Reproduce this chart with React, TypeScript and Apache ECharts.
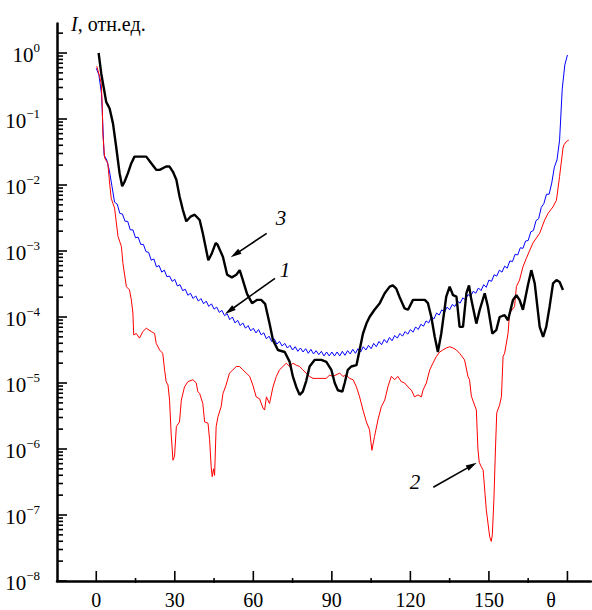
import { useEffect, useRef } from 'react';
import * as echarts from 'echarts';

const FONT = 'Liberation Serif';

// ---- axis texts ----
const xTickLabels = [0, 30, 60, 90, 120, 150];
const xAxisName = 'θ';
const yTitleItalic = 'I';
const yTitleRest = ', отн.ед.';
const curveLabels = ['1', '2', '3'];

// ---- curve 1 (blue): log10 of intensity, every degree ----
const curve1Theta = Array.from({ length: 181 }, (_, i) => i);
const curve1Log = [
  -0.23, -0.33, -0.62, -1.55, -1.62, -1.78, -2.02, -2.26, -2.29, -2.43,
  -2.44, -2.55, -2.55, -2.68, -2.68, -2.80, -2.79, -2.90, -2.90, -3.01,
  -3.02, -3.14, -3.12, -3.24, -3.22, -3.32, -3.29, -3.39, -3.38, -3.46,
  -3.43, -3.53, -3.51, -3.60, -3.58, -3.67, -3.64, -3.72, -3.68, -3.76,
  -3.72, -3.80, -3.76, -3.84, -3.80, -3.88, -3.85, -3.93, -3.90, -3.98,
  -3.95, -4.04, -4.00, -4.09, -4.05, -4.13, -4.09, -4.17, -4.13, -4.21,
  -4.17, -4.24, -4.19, -4.27, -4.24, -4.33, -4.29, -4.37, -4.33, -4.41,
  -4.37, -4.44, -4.40, -4.47, -4.43, -4.50, -4.45, -4.52, -4.47, -4.53,
  -4.48, -4.55, -4.49, -4.56, -4.51, -4.57, -4.52, -4.59, -4.53, -4.59,
  -4.53, -4.59, -4.53, -4.59, -4.52, -4.58, -4.51, -4.56, -4.49, -4.55,
  -4.48, -4.53, -4.45, -4.50, -4.43, -4.48, -4.40, -4.45, -4.37, -4.42,
  -4.34, -4.39, -4.31, -4.36, -4.28, -4.32, -4.25, -4.29, -4.22, -4.26,
  -4.19, -4.23, -4.15, -4.19, -4.11, -4.14, -4.06, -4.09, -4.00, -4.03,
  -3.94, -3.97, -3.89, -3.93, -3.85, -3.89, -3.81, -3.84, -3.76, -3.79,
  -3.71, -3.74, -3.66, -3.69, -3.61, -3.64, -3.56, -3.60, -3.51, -3.55,
  -3.44, -3.46, -3.36, -3.38, -3.29, -3.32, -3.23, -3.26, -3.15, -3.16,
  -3.05, -3.06, -2.95, -2.96, -2.85, -2.84, -2.71, -2.69, -2.54, -2.51,
  -2.34, -2.28, -2.14, -2.14, -1.97, -1.73, -1.62, -1.32, -0.55, -0.18,
  -0.03,
];

// ---- curve 2 (red) ----
const curve2Theta = [
  0.2, 1.3, 1.9, 2.3, 2.5, 3.2, 4.4, 5.1, 5.7, 7.0, 7.6, 8.3, 9.6, 10.2, 11.5, 12.7, 13.4, 14.0, 14.3, 15.3,
  16.5, 17.8, 19.1, 21.0, 22.3, 22.9, 24.2, 25.4, 26.1, 26.7, 27.4, 28.0, 28.6, 29.3, 29.9, 30.6, 31.8, 32.5, 33.7, 35.0,
  36.9, 38.2, 38.8, 39.5, 40.7, 41.4, 42.7, 43.3, 43.9, 44.3, 44.8, 45.2, 45.8, 46.5, 47.7, 48.4, 49.6, 50.9, 52.2, 53.5,
  54.7, 56.0, 57.3, 58.6, 59.8, 61.1, 62.4, 63.7, 64.3, 65.0, 66.2, 67.5, 68.8, 70.0, 71.3, 72.6, 73.9, 75.1, 76.4, 77.7,
  78.9, 80.2, 81.5, 82.8, 87.9, 89.1, 90.4, 93.0, 94.2, 95.5, 96.8, 98.1, 99.4, 100.6, 101.9, 103.2, 104.4, 105.3, 106.3, 107.6,
  108.9, 110.2, 111.4, 112.7, 114.0, 115.2, 116.5, 117.8, 119.1, 120.4, 121.6, 122.9, 124.2, 124.8, 126.1, 127.4, 128.6, 129.9, 131.2, 132.4,
  133.7, 135.0, 136.3, 137.6, 138.8, 140.7, 142.0, 142.6, 143.3, 145.2, 145.8, 146.3, 147.1, 147.8, 149.0, 150.3, 150.9, 151.3, 151.9, 152.5,
  153.0, 154.1, 154.8, 155.4, 156.0, 157.3, 157.9, 159.8, 160.5, 161.7, 163.0, 164.3, 166.8, 169.4, 171.3, 172.6, 174.5, 175.8, 177.0, 178.3,
  178.7, 179.6, 180.5,
];
const curve2Log = [
  -0.20, -0.36, -0.46, -0.81, -1.22, -1.59, -1.67, -1.97, -2.20, -2.35, -2.55, -2.78, -2.93, -3.19, -3.54, -3.59, -3.74, -3.94, -4.27, -4.25,
  -4.32, -4.22, -4.17, -4.22, -4.25, -4.40, -4.50, -4.55, -4.80, -4.98, -5.03, -5.26, -5.76, -6.17, -6.11, -5.66, -5.59, -5.26, -5.06, -4.98,
  -4.95, -5.00, -5.13, -5.16, -5.31, -5.59, -5.61, -5.86, -6.27, -6.42, -6.30, -6.40, -5.66, -5.51, -5.36, -5.16, -5.03, -4.85, -4.80, -4.75,
  -4.75, -4.80, -4.85, -4.90, -5.03, -5.21, -5.24, -5.38, -5.41, -5.21, -5.31, -5.06, -4.90, -4.80, -4.75, -4.70, -4.75, -4.70, -4.73, -4.75,
  -4.80, -4.85, -4.90, -4.93, -4.93, -4.88, -4.90, -4.85, -4.90, -4.88, -4.93, -4.95, -5.06, -5.21, -5.41, -5.59, -5.71, -6.02, -5.81, -5.56,
  -5.36, -5.26, -5.06, -4.90, -4.95, -4.90, -4.98, -5.00, -5.06, -5.11, -5.21, -5.18, -5.21, -5.11, -5.00, -4.80, -4.70, -4.60, -4.53, -4.50,
  -4.47, -4.45, -4.47, -4.50, -4.55, -4.65, -4.90, -4.95, -5.20, -5.41, -6.00, -6.20, -6.27, -6.32, -6.92, -7.33, -7.40, -7.30, -6.77, -6.00,
  -5.45, -5.33, -5.20, -4.60, -4.55, -4.25, -3.94, -3.84, -3.54, -3.44, -3.24, -3.11, -2.88, -2.73, -2.53, -2.43, -2.33, -2.23, -1.87, -1.44,
  -1.39, -1.34, -1.32,
];

// ---- curve 3 (black) ----
const curve3Theta = [
  0.9, 1.9, 3.8, 5.1, 6.4, 7.6, 8.9, 9.9, 10.8, 12.1, 13.4, 14.6, 19.1, 21.0, 22.9, 24.2, 26.7, 28.0, 29.3, 30.6,
  31.8, 33.1, 34.4, 36.0, 37.6, 39.5, 40.7, 42.8, 44.0, 45.6, 46.3, 48.4, 50.0, 51.8, 53.5, 54.8, 56.0, 57.6, 59.5, 61.5,
  63.0, 64.5, 66.2, 67.5, 69.4, 72.0, 73.9, 75.1, 76.4, 77.7, 78.9, 80.2, 81.5, 83.4, 86.0, 87.9, 89.8, 91.1, 92.3, 94.0,
  94.9, 96.1, 97.4, 99.4, 100.6, 101.9, 103.2, 104.4, 106.3, 108.3, 110.2, 112.1, 113.3, 114.6, 115.9, 117.8, 119.1, 121.0, 125.5, 126.7,
  128.0, 129.3, 130.5, 131.8, 133.7, 135.0, 136.3, 137.6, 138.8, 140.1, 141.4, 142.4, 143.3, 145.2, 146.5, 148.4, 149.6, 151.3, 152.8, 154.1,
  156.0, 157.3, 159.2, 160.5, 161.7, 163.0, 164.9, 166.2, 167.5, 169.4, 170.7, 171.9, 173.2, 174.5, 175.8, 177.0, 178.3,
];
const curve3Log = [
  0.0, -0.31, -0.74, -0.84, -1.07, -1.42, -1.82, -2.02, -1.95, -1.82, -1.67, -1.57, -1.57, -1.67, -1.77, -1.77, -1.72, -1.72, -1.80, -1.92,
  -2.17, -2.38, -2.55, -2.48, -2.45, -2.53, -2.73, -3.14, -3.05, -2.88, -2.90, -3.09, -3.36, -3.40, -3.36, -3.29, -3.44, -3.65, -3.79, -3.74,
  -3.74, -3.80, -4.10, -4.35, -4.50, -4.53, -4.68, -4.90, -5.06, -5.18, -5.13, -4.97, -4.75, -4.65, -4.65, -4.68, -4.80, -5.00, -5.11, -5.13,
  -5.00, -4.80, -4.75, -4.73, -4.50, -4.25, -4.10, -4.00, -3.89, -3.79, -3.64, -3.54, -3.52, -3.57, -3.70, -3.87, -3.89, -3.74, -3.74, -3.79,
  -4.00, -4.30, -4.53, -4.25, -3.69, -3.54, -3.67, -3.69, -4.15, -4.15, -3.64, -3.52, -3.74, -4.10, -3.89, -3.64, -3.84, -4.25, -4.20, -4.00,
  -3.97, -4.05, -3.74, -3.67, -3.74, -3.89, -3.52, -3.29, -3.49, -4.15, -4.30, -4.15, -3.84, -3.49, -3.44, -3.47, -3.59,
];

// ---- axis ranges and tick positions ----
const X_MIN = -15;
const X_MAX = 189;
const Y_MIN = 1e-8;
const Y_MAX = 2.8;
const xMajorTicks = [0, 30, 60, 90, 120, 150, 180];
const xMinorTicks = [15, 45, 75, 105, 135, 165];
const yDecades = [-8, -7, -6, -5, -4, -3, -2, -1, 0];

const toPairs = (t: number[], l: number[]) => t.map((x, i) => [x, Math.pow(10, l[i])]);

function buildYTicks() {
  const out: number[][] = [];
  for (const d of yDecades) {
    out.push([X_MIN, Math.pow(10, d), 10]);
    for (let k = 2; k <= 9; k++) {
      const v = k * Math.pow(10, d);
      if (v < Y_MAX) out.push([X_MIN, v, 6]);
    }
  }
  return out;
}

function buildXTicks() {
  const out: number[][] = [];
  for (const t of xMajorTicks) out.push([t, Y_MIN, 10, 0]);
  for (const t of xMinorTicks) out.push([t, Y_MIN, 3, 2]);
  return out;
}

// annotation layout (pixels)
const annotations = [
  { label: curveLabels[2], x: 281, y: 218, from: [266.7, 233.3], to: [230.7, 257.3] },
  { label: curveLabels[0], x: 285, y: 270, from: [275, 278.3], to: [225, 314] },
  { label: curveLabels[1], x: 415, y: 482, from: [433.3, 487.3], to: [476.7, 462.7] },
];

function arrowGraphics() {
  const g: any[] = [];
  for (const a of annotations) {
    const [sx, sy] = a.from;
    const [tx, ty] = a.to;
    const dx = tx - sx;
    const dy = ty - sy;
    const len = Math.hypot(dx, dy);
    const ux = dx / len;
    const uy = dy / len;
    const L = 11;
    const W = 3;
    const bx = tx - ux * L;
    const by = ty - uy * L;
    g.push({
      type: 'line',
      silent: true,
      shape: { x1: sx, y1: sy, x2: bx + ux * 2, y2: by + uy * 2 },
      style: { stroke: '#000', lineWidth: 1.6 },
    });
    g.push({
      type: 'polygon',
      silent: true,
      shape: { points: [[tx, ty], [bx - uy * W, by + ux * W], [bx + uy * W, by - ux * W]] },
      style: { fill: '#000' },
    });
    g.push({
      type: 'text',
      silent: true,
      x: a.x,
      y: a.y,
      style: {
        text: a.label,
        fontFamily: FONT,
        fontSize: 21,
        fontStyle: 'italic',
        fill: '#000',
        align: 'center',
        verticalAlign: 'middle',
      },
    });
  }
  return g;
}

export default function App() {
  const ref = useRef<HTMLDivElement>(null);

  useEffect(() => {
    if (!ref.current) return;
    const chart = echarts.init(ref.current, null, { renderer: 'svg' });

    const option: any = {
      animation: false,
      backgroundColor: '#ffffff',
      textStyle: { fontFamily: FONT },
      grid: { left: 57, right: 1, top: 23.5, bottom: 29, containLabel: false, outerBoundsMode: 'none' },
      xAxis: {
        type: 'value',
        min: X_MIN,
        max: X_MAX,
        interval: 15,
        axisLine: { onZero: false, lineStyle: { color: '#000', width: 2.5 } },
        axisTick: { show: false },
        splitLine: { show: false },
        axisLabel: {
          margin: 11,
          fontSize: 20,
          lineHeight: 16,
          fontFamily: FONT,
          color: '#000',
          formatter: (v: number) => (xTickLabels.includes(v) ? String(v) : ''),
        },
        name: xAxisName,
        nameLocation: 'end',
        nameGap: -40,
        nameTextStyle: {
          fontFamily: FONT,
          fontSize: 20,
          lineHeight: 14,
          color: '#000',
          align: 'center',
          verticalAlign: 'top',
          padding: [12, 0, 0, 0],
        },
      },
      yAxis: {
        type: 'log',
        logBase: 10,
        min: Y_MIN,
        max: Y_MAX,
        splitNumber: 8,
        axisLine: { onZero: false, lineStyle: { color: '#000', width: 2.5 } },
        axisTick: { show: false },
        splitLine: { show: false },
        minorTick: { show: false },
        axisLabel: {
          margin: 17,
          color: '#000',
          fontFamily: FONT,
          formatter: (v: number) => {
            const lg = Math.log10(v);
            const e = Math.round(lg);
            if (Math.abs(lg - e) > 1e-6) return '';
            const sup = e === 0 ? '0' : '\u2212' + String(-e);
            return '{b|10}{s|' + sup + '}';
          },
          rich: {
            b: { fontSize: 21, fontFamily: FONT, color: '#000', lineHeight: 24, verticalAlign: 'bottom' },
            s: { fontSize: 13, fontFamily: FONT, color: '#000', lineHeight: 14, verticalAlign: 'top' },
          },
        },
      },
      series: [
        {
          name: '1',
          type: 'line',
          data: toPairs(curve1Theta, curve1Log),
          showSymbol: false,
          symbol: 'none',
          lineStyle: { color: '#0000ff', width: 1 },
          z: 2,
        },
        {
          name: '2',
          type: 'line',
          data: toPairs(curve2Theta, curve2Log),
          showSymbol: false,
          symbol: 'none',
          lineStyle: { color: '#ff0000', width: 1 },
          z: 3,
        },
        {
          name: '3',
          type: 'line',
          data: toPairs(curve3Theta, curve3Log),
          showSymbol: false,
          symbol: 'none',
          lineStyle: { color: '#000000', width: 2.4 },
          z: 4,
        },
        {
          type: 'custom',
          silent: true,
          clip: false,
          z: 5,
          data: buildYTicks(),
          renderItem: (_p: any, api: any) => {
            const pt = api.coord([api.value(0), api.value(1)]);
            const len = api.value(2);
            return {
              type: 'line',
              shape: { x1: pt[0], y1: pt[1], x2: pt[0] + len, y2: pt[1] },
              style: { stroke: '#000', lineWidth: 1.6 },
            };
          },
        },
        {
          type: 'custom',
          silent: true,
          clip: false,
          z: 5,
          data: buildXTicks(),
          renderItem: (_p: any, api: any) => {
            const pt = api.coord([api.value(0), api.value(1)]);
            const up = api.value(2);
            const down = api.value(3);
            return {
              type: 'line',
              shape: { x1: pt[0], y1: pt[1] + down, x2: pt[0], y2: pt[1] - up },
              style: { stroke: '#000', lineWidth: 1.6 },
            };
          },
        },
      ],
      graphic: [
        {
          type: 'text',
          silent: true,
          x: 71,
          y: 24,
          style: {
            text: '{i|' + yTitleItalic + '}' + yTitleRest,
            fontFamily: FONT,
            fontSize: 20,
            fill: '#000',
            verticalAlign: 'middle',
            rich: {
              i: { fontFamily: FONT, fontSize: 20, fontStyle: 'italic', fill: '#000' },
            },
          },
        },
        ...arrowGraphics(),
      ],
    };

    chart.setOption(option);
    return () => chart.dispose();
  }, []);

  return (
    <div
      ref={ref}
      style={{ position: 'absolute', left: 0, top: 0, width: 592, height: 610, background: '#fff' }}
    />
  );
}
